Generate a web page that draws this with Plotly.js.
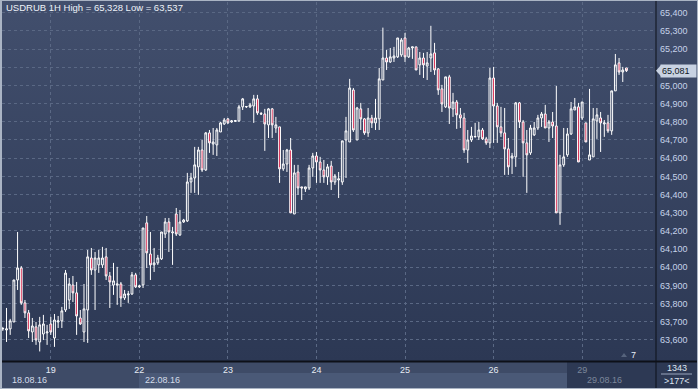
<!DOCTYPE html>
<html><head><meta charset="utf-8">
<script src="https://cdn.plot.ly/plotly-3.0.1.min.js"></script>
<style>
html,body{margin:0;padding:0;background:#3e4b67;}
#wrap{position:relative;width:698px;height:389px;overflow:hidden;
background:linear-gradient(to bottom,#424f6d 0px,#2c3854 361px,#3e4b67 361px,#3e4b67 389px);}
#chart{position:absolute;left:0;top:0;width:698px;height:389px;}
#frame{position:absolute;left:0;top:0;width:698px;height:389px;box-sizing:border-box;border:1px solid #aab4c4;border-left-width:2px;pointer-events:none;}
</style></head><body>
<div id="wrap"><div id="chart"></div><div id="frame"></div></div>
<script>
// ---- data (USDRUB, 1H candles, 18.08.16 - 29.08.16) ----
const symbol = 'USDRUB';
const period = '1H';
const open = [63.661,63.655,63.661,63.699,63.930,63.996,63.804,63.749,63.644,63.672,
63.589,63.633,63.639,63.688,63.611,63.699,63.705,63.765,63.820,63.902,
63.859,63.721,63.644,63.765,64.051,63.985,64.013,64.013,64.057,63.952,
63.902,63.902,63.908,63.831,63.848,63.853,63.958,63.892,63.903,64.244,
64.073,64.013,64.024,64.046,64.183,64.249,64.189,64.293,64.178,64.249,
64.255,64.469,64.491,64.552,64.645,64.535,64.739,64.678,64.673,64.744,
64.788,64.816,64.799,64.802,64.805,64.882,64.882,64.882,64.887,64.926,
64.846,64.843,64.783,64.871,64.766,64.772,64.541,64.568,64.645,64.293,
64.524,64.442,64.431,64.436,64.546,64.612,64.579,64.535,64.497,64.557,
64.469,64.480,64.469,64.700,64.689,64.975,64.700,64.871,64.816,64.739,
64.821,64.794,64.816,65.030,65.151,65.129,65.151,65.157,65.168,65.261,
65.157,65.206,65.212,65.113,65.151,65.107,65.151,65.179,65.091,64.981,
64.882,65.047,64.871,64.909,64.838,64.821,64.645,64.700,64.717,64.717,
64.755,64.706,64.684,65.041,64.887,64.772,64.739,64.651,64.601,64.607,
64.904,64.799,64.684,64.629,64.728,64.766,64.821,64.843,64.766,64.799,
64.777,64.299,64.563,64.618,64.733,64.865,64.882,64.821,64.794,64.590,
64.607,64.805,64.821,64.788,64.794,64.750,64.970,65.124,65.074,65.096];
const high = [63.672,63.776,63.716,63.930,64.194,64.007,63.820,63.765,63.721,63.699,
63.727,63.738,63.683,63.727,63.743,63.732,63.782,63.985,63.941,63.952,
63.919,63.765,63.908,64.095,64.106,64.084,64.095,64.112,64.106,63.974,
64.024,64.002,63.919,63.875,63.870,63.974,63.969,63.903,64.216,64.282,
64.194,64.106,64.068,64.194,64.271,64.271,64.222,64.326,64.315,64.266,
64.519,64.519,64.662,64.662,64.700,64.744,64.755,64.766,64.766,64.799,
64.821,64.821,64.810,64.810,64.893,64.931,64.887,64.904,64.948,64.948,
64.854,64.871,64.876,64.876,64.827,64.772,64.645,64.651,64.711,64.563,
64.563,64.442,64.442,64.563,64.629,64.634,64.607,64.590,64.568,64.585,
64.513,64.524,64.695,64.827,65.036,64.986,64.882,64.904,64.821,64.876,
64.838,64.926,65.096,65.318,65.195,65.206,65.212,65.261,65.261,65.289,
65.212,65.212,65.212,65.184,65.179,65.184,65.328,65.234,65.096,65.003,
65.047,65.058,64.959,64.920,64.876,64.849,64.755,64.772,64.794,64.799,
64.766,64.717,65.096,65.102,64.904,64.882,64.876,64.711,64.629,64.909,
64.909,64.810,64.755,64.783,64.799,64.838,64.854,64.893,64.810,64.854,
64.997,64.618,64.766,64.766,64.909,64.931,64.904,64.909,64.794,64.981,
64.876,64.876,64.854,64.810,64.838,64.970,65.173,65.151,65.102,65.096];
const low = [63.650,63.589,63.628,63.699,63.875,63.793,63.721,63.611,63.589,63.573,
63.537,63.600,63.573,63.628,63.562,63.666,63.666,63.754,63.771,63.809,
63.628,63.683,63.589,63.584,63.958,63.765,63.969,63.996,63.930,63.776,
63.848,63.793,63.782,63.820,63.804,63.848,63.886,63.886,63.886,63.996,
63.930,63.974,64.013,64.040,64.161,64.084,64.013,64.172,64.172,64.244,
64.249,64.409,64.409,64.398,64.524,64.530,64.629,64.618,64.612,64.744,
64.783,64.788,64.794,64.799,64.799,64.865,64.876,64.876,64.794,64.838,
64.838,64.640,64.711,64.711,64.739,64.464,64.530,64.524,64.299,64.293,
64.398,64.370,64.414,64.425,64.497,64.464,64.464,64.464,64.453,64.425,
64.453,64.381,64.453,64.491,64.689,64.744,64.700,64.755,64.728,64.717,
64.766,64.755,64.755,65.030,65.085,65.124,65.129,65.151,65.157,65.129,
65.151,65.146,65.085,65.058,65.041,65.030,65.074,65.058,64.948,64.854,
64.876,64.788,64.827,64.761,64.766,64.629,64.574,64.689,64.714,64.700,
64.700,64.673,64.656,64.684,64.684,64.717,64.508,64.508,64.513,64.552,
64.766,64.497,64.409,64.618,64.722,64.755,64.772,64.766,64.689,64.711,
64.299,64.233,64.552,64.607,64.728,64.865,64.579,64.810,64.689,64.590,
64.607,64.706,64.634,64.717,64.739,64.728,64.970,65.058,65.019,65.074];
const close = [63.663,63.661,63.705,63.930,63.996,63.804,63.749,63.650,63.677,63.600,
63.683,63.688,63.644,63.644,63.710,63.705,63.760,63.968,63.908,63.859,
63.732,63.688,63.771,64.057,63.985,64.051,64.051,64.051,63.952,63.919,
63.925,63.908,63.831,63.853,63.853,63.958,63.892,63.897,64.216,64.079,
64.013,64.024,64.051,64.194,64.249,64.194,64.194,64.183,64.249,64.260,
64.469,64.491,64.563,64.645,64.535,64.739,64.684,64.689,64.755,64.794,
64.810,64.794,64.805,64.807,64.882,64.926,64.884,64.893,64.926,64.849,
64.843,64.788,64.871,64.783,64.783,64.541,64.568,64.645,64.299,64.519,
64.436,64.436,64.442,64.546,64.612,64.579,64.535,64.497,64.552,64.469,
64.502,64.486,64.695,64.750,64.986,64.755,64.876,64.816,64.739,64.821,
64.794,64.821,65.036,65.151,65.129,65.157,65.162,65.261,65.250,65.157,
65.206,65.212,65.085,65.151,65.113,65.124,65.173,65.085,64.975,64.898,
65.047,64.876,64.909,64.838,64.821,64.645,64.700,64.722,64.719,64.755,
64.706,64.684,65.041,64.887,64.772,64.739,64.651,64.552,64.612,64.904,
64.799,64.684,64.618,64.766,64.766,64.821,64.843,64.766,64.799,64.777,
64.299,64.563,64.607,64.733,64.871,64.882,64.579,64.909,64.689,64.618,
64.816,64.838,64.794,64.794,64.750,64.970,65.113,65.074,65.085,65.081];
const dayStartIdx = [13,37,61,85,109,133,157];
const dayLabels = ['19','22','23','24','25','26','29'];
const dateLabels = ['18.08.16','22.08.16','29.08.16'];
const yTickVals = [63.6,63.7,63.8,63.9,64.0,64.1,64.2,64.3,64.4,64.5,64.6,64.7,64.8,64.9,65.0,65.1,65.2,65.3,65.4];
const barsCount = 1343;
const visibleBars = 177;
const shiftMark = '7';

// ---- geometry helpers (pixel -> paper) ----
const L = 2, T = 2, W = 653, H = 359;
const px = x => (x - L) / W;
const py = y => (T + H - y) / H;
const FONT = 'Liberation Sans, Arial, sans-serif';

const idx = close.map((_, i) => i);
const fmt = v => v.toFixed(3).replace('.', ',');
const hi = Math.max(...high), lo = Math.min(...low);
const last = close[close.length - 1];

// the current-price box covers the nearest grid label, as in the terminal
const yTickText = yTickVals.map(v => Math.abs(v - last) < 0.04 ? '' : fmt(v));

const trace = {
  type: 'candlestick', x: idx, open: open, high: high, low: low, close: close,
  increasing: {line: {color: '#ffffff', width: 1}, fillcolor: 'rgba(0,0,0,0)'},
  decreasing: {line: {color: '#ffffff', width: 1}, fillcolor: '#d3103c'},
  whiskerwidth: 0, hoverinfo: 'none', showlegend: false
};

const dayText = dayLabels.map((d, i) => i === dayLabels.length - 1 ? '<span style="color:#7c879b">' + d + '</span>' : d);

const shapes = [
  {type:'rect', xref:'paper', yref:'paper', x0:px(139), x1:px(567), y0:py(390), y1:py(373), fillcolor:'#4a5977', line:{width:0}, layer:'below'},
  {type:'rect', xref:'paper', yref:'paper', x0:px(567), x1:px(656), y0:py(390), y1:py(361), fillcolor:'#2d3954', line:{width:0}, layer:'below'},
  {type:'rect', xref:'paper', yref:'paper', x0:px(656), x1:px(699), y0:py(390), y1:py(361), fillcolor:'#2d3954', line:{width:0}, layer:'below'},
  {type:'line', xref:'paper', yref:'paper', x0:px(656), x1:px(656), y0:py(0), y1:py(390), line:{color:'#0d1018', width:1}},
  {type:'line', xref:'paper', yref:'paper', x0:px(0), x1:px(699), y0:py(361.5), y1:py(361.5), line:{color:'#0d1018', width:2}},
  {type:'line', xref:'paper', yref:'paper', x0:px(661), x1:px(692), y0:py(374), y1:py(374), line:{color:'#9aa6bd', width:1}},
  {type:'path', xref:'paper', yref:'y', path:'M '+px(656)+','+last+' L '+px(661)+','+(last+0.031)+' L '+px(661)+','+(last-0.031)+' Z', fillcolor:'#c8d2e2', line:{width:0}},
  {type:'path', xref:'paper', yref:'paper', path:'M '+px(621)+','+py(357)+' L '+px(624)+','+py(353)+' L '+px(627)+','+py(357)+' Z', fillcolor:'#56637c', line:{width:0}}
];

const annotations = [
  {xref:'paper', yref:'paper', x:px(4), y:py(8), xanchor:'left', yanchor:'middle', showarrow:false,
   text: symbol + ' ' + period + ' High = ' + fmt(hi) + ' Low = ' + fmt(lo), font:{family:FONT, size:9.5, color:'#eef2f8'}},
  {xref:'paper', yref:'paper', x:px(10), y:py(380), xanchor:'left', yanchor:'middle', showarrow:false, text:dateLabels[0], font:{family:FONT, size:9, color:'#d4dcea'}},
  {xref:'paper', yref:'paper', x:px(143), y:py(380), xanchor:'left', yanchor:'middle', showarrow:false, text:dateLabels[1], font:{family:FONT, size:9, color:'#d4dcea'}},
  {xref:'paper', yref:'paper', x:px(585), y:py(380), xanchor:'left', yanchor:'middle', showarrow:false, text:dateLabels[2], font:{family:FONT, size:9, color:'#7c879b'}},
  {xref:'paper', yref:'paper', x:px(633), y:py(355), xanchor:'center', yanchor:'middle', showarrow:false, text:shiftMark, font:{family:FONT, size:9, color:'#e8eef6'}},
  {xref:'paper', yref:'paper', x:px(677), y:py(368), xanchor:'center', yanchor:'middle', showarrow:false, text:String(barsCount), font:{family:FONT, size:9, color:'#dfe6f2'}},
  {xref:'paper', yref:'paper', x:px(677), y:py(381), xanchor:'center', yanchor:'middle', showarrow:false, text:'&gt;' + visibleBars + '&lt;', font:{family:FONT, size:9, color:'#dfe6f2'}},
  {xref:'paper', yref:'y', x:px(660), y:last, xanchor:'left', yanchor:'middle', showarrow:false, text:fmt(last),
   bgcolor:'#c8d2e2', borderpad:1, width:33, height:10, align:'left', font:{family:FONT, size:9, color:'#101826'}}
];

const layout = {
  width: 698, height: 389,
  margin: {l: L, r: 698 - L - W, t: T, b: 389 - T - H, pad: 0},
  paper_bgcolor: 'rgba(0,0,0,0)', plot_bgcolor: 'rgba(0,0,0,0)',
  separators: ',.',
  showlegend: false,
  font: {family: FONT, size: 9, color: '#e6ecf5'},
  xaxis: {
    range: [-0.22, 176.74], tickmode: 'array', tickvals: dayStartIdx, ticktext: dayText,
    showgrid: true, gridcolor: '#5a6884', gridwidth: 1, griddash: '3px,3px',
    zeroline: false, showline: false, ticks: '', ticklabelstandoff: 2,
    tickfont: {family: FONT, size: 9, color: '#e6ecf5'},
    rangeslider: {visible: false}, fixedrange: true
  },
  yaxis: {
    side: 'right', range: [63.4844, 65.4589], tickmode: 'array', tickvals: yTickVals, ticktext: yTickText,
    showgrid: true, gridcolor: '#5a6884', gridwidth: 1, griddash: '3px,3px',
    zeroline: false, showline: false, ticks: '', ticklabelstandoff: 4,
    tickfont: {family: FONT, size: 9, color: '#c6d3ea'}, fixedrange: true
  },
  shapes: shapes,
  annotations: annotations
};

Plotly.newPlot('chart', [trace], layout, {staticPlot: true, displayModeBar: false});
</script>
</body></html>
